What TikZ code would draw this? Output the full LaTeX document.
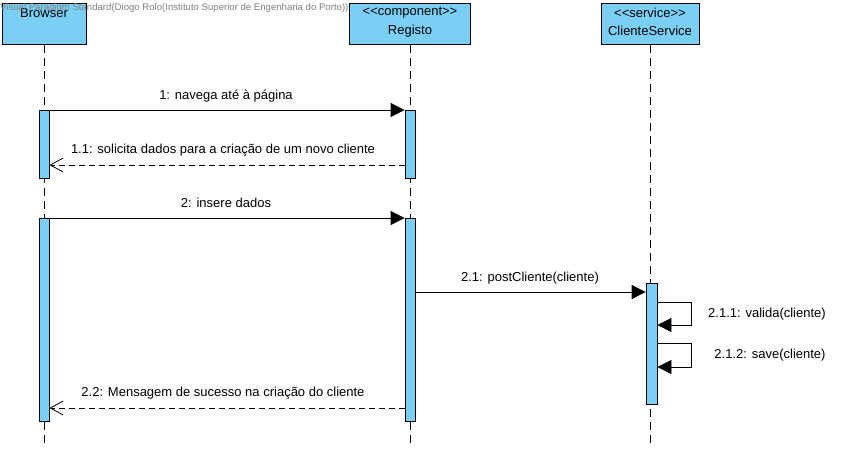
\documentclass[tikz,border=0pt]{standalone}
\usepackage{fontspec}
\setmainfont{Liberation Sans}
\usetikzlibrary{arrows.meta}
\definecolor{actfill}{RGB}{122,207,245}
\definecolor{titlegray}{RGB}{128,128,128}
\begin{document}
\begin{tikzpicture}[x=1pt,y=-1pt,
  head/.style={draw=black,fill=actfill,line width=1pt,minimum height=41pt,inner sep=0pt,anchor=north},
  bar/.style={draw=black,fill=actfill,line width=0.8pt,minimum width=10pt,inner sep=0pt,anchor=north},
  lifeline/.style={dash pattern=on 8pt off 5pt,line width=0.8pt},
  msg/.style={-{Triangle[length=14pt,width=14pt]},line width=0.8pt},
  ret/.style={-{Straight Barb[length=13pt,width=14pt]},dash pattern=on 6pt off 4pt,line width=0.8pt},
  lbl/.style={font=\fontsize{13}{15}\selectfont,inner sep=0pt},
  hlbl/.style={font=\fontsize{13}{15}\selectfont,inner sep=0pt}]
\useasboundingbox (0,0) rectangle (845,451);
% lifeline heads
\node[head,minimum width=84pt] (browser) at (44,3) {};
\node[head,minimum width=121pt] (registo) at (410,3) {};
\node[head,minimum width=98pt] (cliserv) at (650,3) {};
\node[hlbl] (browserT) at (44,13) {Browser};
\node[hlbl] (registoS) at (410,13) {{<}{<}component{>}{>}};
\node[hlbl] (registoT) at (410,31) {Registo};
\node[hlbl] (cliservS) at (650,13) {{<}{<}service{>}{>}};
\node[hlbl] (cliservT) at (650,31) {ClienteService};
% lifelines
\coordinate (browserEnd) at (44,447);
\coordinate (registoEnd) at (410,447);
\coordinate (cliservEnd) at (650,447);
\draw[lifeline] (browser.south) -- (browserEnd);
\draw[lifeline] (registo.south) -- (registoEnd);
\draw[lifeline] (cliserv.south) -- (cliservEnd);
% activation bars
\node[bar,minimum height=68pt] (b1) at (44,110) {};
\node[bar,minimum height=203pt] (b2) at (44,218) {};
\node[bar,minimum height=68pt] (r1) at (410,110) {};
\node[bar,minimum height=203pt] (r2) at (410,218) {};
\node[bar,minimum height=121pt,minimum width=11pt] (c1) at (651.5,283) {};
% messages
\draw[msg] (b1.north east) -- (r1.north west);
\node[lbl] (m1) at (226,96) {1: navega até à página};
\draw[ret] (r1.west |- 0,165) -- (b1.east |- 0,165);
\node[lbl] (m11) at (223,150) {1.1: solicita dados para a criação de um novo cliente};
\draw[msg] (b2.north east) -- (r2.north west);
\node[lbl] (m2) at (226,203) {2: insere dados};
\draw[msg] (r2.east |- 0,292) -- (c1.west |- 0,292);
\node[lbl] (m21) at (530,278) {2.1: postCliente(cliente)};
\coordinate (loopA) at (691,302);
\coordinate (loopB) at (691,325);
\draw[msg] (c1.east |- loopA) -- (loopA) -- (loopB) -- (c1.east |- loopB);
\node[lbl] (m211) at (767,314) {2.1.1: valida(cliente)};
\coordinate (loopC) at (691,343);
\coordinate (loopD) at (691,367);
\draw[msg] (c1.east |- loopC) -- (loopC) -- (loopD) -- (c1.east |- loopD);
\node[lbl] (m212) at (770,355) {2.1.2: save(cliente)};
\draw[ret] (r2.west |- 0,408) -- (b2.east |- 0,408);
\node[lbl] (m22) at (223,393) {2.2: Mensagem de sucesso na criação do cliente};
% title
\node[anchor=west,inner sep=0pt,text=titlegray,font=\fontsize{9.6}{11}\selectfont] (title) at (0,8) {Visual Paradigm Standard(Diogo Rolo(Instituto Superior de Engenharia do Porto))};
\end{tikzpicture}
\end{document}
